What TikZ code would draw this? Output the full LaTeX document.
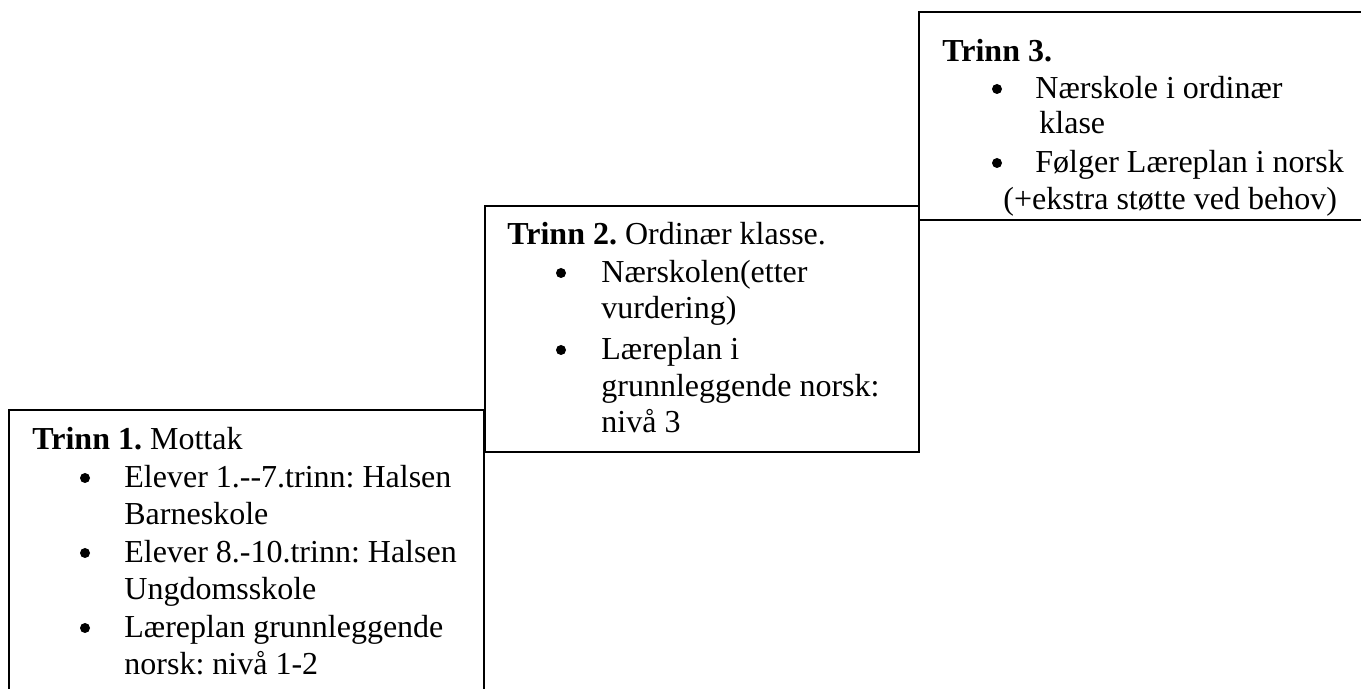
\documentclass[tikz,border=0pt]{standalone}
\usepackage{fontspec}
\setmainfont{Liberation Serif}
\frenchspacing

\begin{document}
\begin{tikzpicture}[x=0.5pt, y=-0.5pt,
        txt/.style={anchor=base west, inner sep=0pt, font=\fontsize{16}{18.75}\selectfont},
        dot/.style={circle, fill, inner sep=0pt, minimum size=5pt},
        stepframe/.style={line width=0.8pt}]
        \useasboundingbox (0,0) rectangle (1361,689);
        \clip (0,0) rectangle (1361,689);

        % Frames
        \draw[stepframe] (9,410) rectangle (484,720);
        \draw[stepframe] (485,206) rectangle (919,452);
        \draw[stepframe] (919,12) rectangle (1380,220);

        % Trinn 1
        \node[txt] (h1) at (32,450) {\textbf{Trinn 1.} Mottak};
        \node[dot] (b1a) at (85,478) {};
        \node[txt] (l1a) at (124,488) {Elever 1.-{}-7.trinn: Halsen};
        \node[txt] (l1b) at (124,525) {Barneskole};
        \node[dot] (b1b) at (85,553) {};
        \node[txt] (l1c) at (124,563) {Elever 8.-10.trinn: Halsen};
        \node[txt] (l1d) at (124,600) {Ungdomsskole};
        \node[dot] (b1c) at (85,628) {};
        \node[txt] (l1e) at (124,638) {Læreplan grunnleggende};
        \node[txt] (l1f) at (124,675) {norsk: nivå 1-2};

        % Trinn 2
        \node[txt] (h2) at (507,245) {\textbf{Trinn 2.} Ordinær klasse.};
        \node[dot] (b2a) at (561,273) {};
        \node[txt] (l2a) at (601,283) {Nærskolen(etter};
        \node[txt] (l2b) at (601,319) {vurdering)};
        \node[dot] (b2b) at (561,350) {};
        \node[txt] (l2c) at (601,360) {Læreplan i};
        \node[txt] (l2d) at (601,397) {grunnleggende norsk:};
        \node[txt] (l2e) at (601,433) {nivå 3};

        % Trinn 3
        \node[txt] (h3) at (942,62) {\textbf{Trinn 3.}};
        \node[dot] (b3a) at (997,89) {};
        \node[txt] (l3a) at (1035,99) {Nærskole i ordinær};
        \node[txt] (l3b) at (1039,134) {klase};
        \node[dot] (b3b) at (997,163) {};
        \node[txt] (l3c) at (1035,173) {Følger Læreplan i norsk};
        \node[txt] (l3d) at (1003,210) {(+ekstra støtte ved behov)};
    \end{tikzpicture}
\end{document}
